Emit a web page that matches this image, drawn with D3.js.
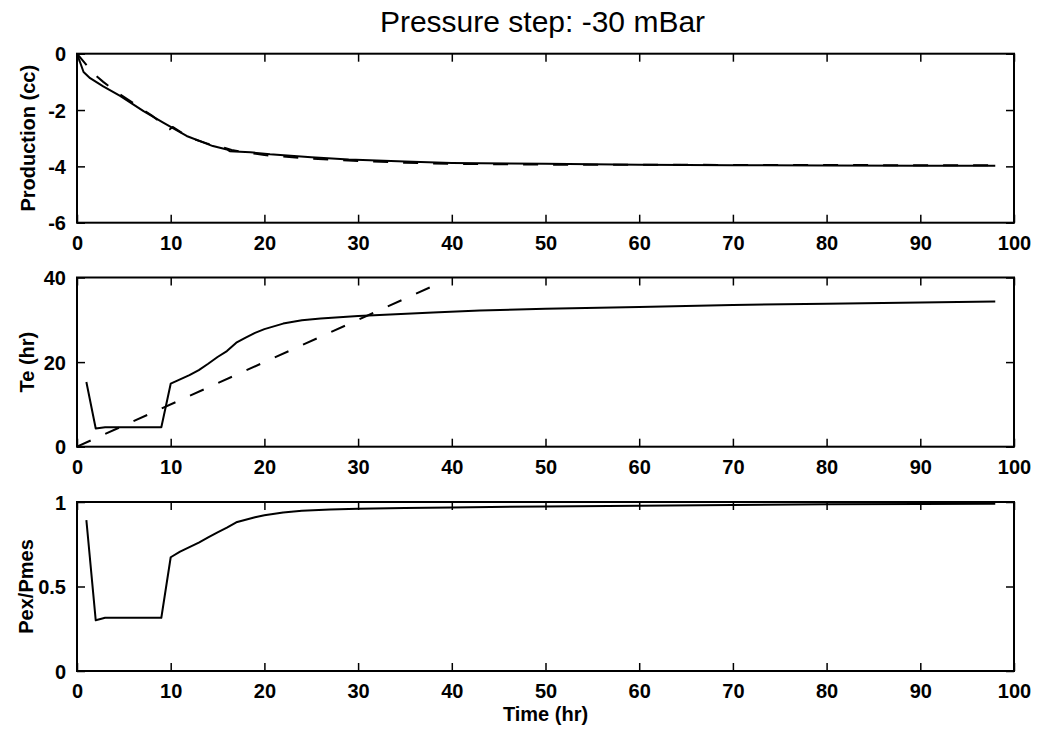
<!DOCTYPE html>
<html><head><meta charset="utf-8">
<script src="https://cdn.jsdelivr.net/npm/d3@7"></script>
<style>body{margin:0;background:#fff}svg{display:block}text{font-family:"Liberation Sans",Arial,sans-serif}</style>
</head><body>
<svg id="c" width="1041" height="731"></svg>
<script>
// ---- data ----
const titleText = "Pressure step: -30 mBar";
const xLabel = "Time (hr)";
const yLabels = ["Production (cc)", "Te (hr)", "Pex/Pmes"];
const xTicks = [0,10,20,30,40,50,60,70,80,90,100];
const prodTicks = [0,-2,-4,-6];
const teTicks = [0,20,40];
const ratioTicks = [0,0.5,1];

const prodTime     = [0,0.7,1.4,2.8,4.6,7.1,9.2,11.7,14.5,16,16.3,18.5,20.6,25,29,35,40,50,60,70,80,90,98];
const prodMeasured = [0,-0.65,-0.87,-1.16,-1.5,-2.04,-2.45,-2.92,-3.28,-3.4,-3.46,-3.5,-3.57,-3.68,-3.76,-3.83,-3.88,-3.91,-3.94,-3.96,-3.97,-3.98,-3.98];
const prodModelTime = [0,1.8,2.8,4.3,6,8,9.9,10.2,12,14,15.8,16.5,20,25,30,35,40,50,60,70,80,90,98];
const prodModel     = [0,-0.72,-1.0,-1.38,-1.75,-2.2,-2.68,-2.6,-2.98,-3.2,-3.35,-3.42,-3.6,-3.73,-3.81,-3.87,-3.91,-3.94,-3.94,-3.95,-3.95,-3.96,-3.96];

const teTime   = [1,2,3,9,10,11,12,13,14,15,16,17,18,19,20,22,24,26,28,30,34,38,43,50,60,70,80,90,98];
const teValues = [15.3,4.3,4.6,4.6,14.9,15.9,16.9,18.1,19.6,21.2,22.6,24.6,25.8,26.9,27.8,29.1,29.9,30.3,30.6,30.9,31.3,31.7,32.2,32.6,33.0,33.5,33.8,34.1,34.3];
const teFitTime = [0,38.9];
const teFit     = [0,38.9];

const ratioTime   = [1,2,3,9,10,11,12,13,14,15,16,17,18,19,20,22,24,27,30,35,40,50,60,70,80,90,98];
const ratioValues = [0.893,0.30,0.315,0.315,0.673,0.706,0.733,0.76,0.79,0.82,0.848,0.88,0.895,0.91,0.922,0.938,0.948,0.956,0.96,0.965,0.968,0.974,0.978,0.982,0.986,0.988,0.99];

// ---- layout ----
const svg = d3.select("#c");
const L = 77, R = 1014;
const panels = [
  {top:53.7, bottom:222.7, domain:[-6,0], ticks:prodTicks, label:yLabels[0], labelX:35,
   series:[{t:prodTime,v:prodMeasured,dash:null},{t:prodModelTime,v:prodModel,dash:"15,15"}]},
  {top:277.5, bottom:446.7, domain:[0,40], ticks:teTicks, label:yLabels[1], labelX:34,
   series:[{t:teTime,v:teValues,dash:null},{t:teFitTime,v:teFit,dash:"15,16"}]},
  {top:502, bottom:671, domain:[0,1], ticks:ratioTicks, label:yLabels[2], labelX:33,
   series:[{t:ratioTime,v:ratioValues,dash:null}]}
];
const x = d3.scaleLinear().domain([0,100]).range([L,R]);
const FONT = "Liberation Sans, Arial, sans-serif";
const TL = 8;

panels.forEach((p,i)=>{
  const y = d3.scaleLinear().domain(p.domain).range([p.bottom,p.top]);
  const g = svg.append("g");
  const line = d3.line().x(d=>x(d[0])).y(d=>y(d[1]));
  p.series.forEach(s=>{
    const pts = s.t.map((t,k)=>[t,s.v[k]]);
    g.append("path").attr("d",line(pts)).attr("fill","none").attr("stroke","#000")
      .attr("stroke-width",2).attr("stroke-linejoin","round")
      .attr("stroke-dasharray", s.dash);
  });
  const bottomAx = g.append("g").attr("transform",`translate(0,${p.bottom})`)
    .call(d3.axisBottom(x).tickValues(xTicks).tickSize(-TL).tickPadding(TL+5).tickFormat(d3.format("d")));
  const topAx = g.append("g").attr("transform",`translate(0,${p.top})`)
    .call(d3.axisTop(x).tickValues(xTicks).tickSize(-TL).tickFormat(""));
  const leftAx = g.append("g").attr("transform",`translate(${L},0)`)
    .call(d3.axisLeft(y).tickValues(p.ticks).tickSize(-TL).tickPadding(TL+3).tickFormat(d=>String(d)));
  const rightAx = g.append("g").attr("transform",`translate(${R},0)`)
    .call(d3.axisRight(y).tickValues(p.ticks).tickSize(-TL).tickFormat(""));
  [bottomAx,topAx,leftAx,rightAx].forEach(a=>{
    a.select(".domain").remove();
    a.selectAll(".tick line").attr("stroke","#000").attr("stroke-width",1.5);
    a.selectAll(".tick text").attr("fill","#000").style("font-family",FONT)
      .style("font-size","20px").style("font-weight","bold");
  });
  bottomAx.selectAll(".tick text").attr("dy","0.71em");
  leftAx.selectAll(".tick text").attr("dy","0.36em");
  g.append("rect").attr("x",L).attr("y",p.top).attr("width",R-L).attr("height",p.bottom-p.top)
    .attr("fill","none").attr("stroke","#000").attr("stroke-width",2);
  g.append("text").attr("transform",`translate(${p.labelX},${(p.top+p.bottom)/2}) rotate(-90)`)
    .attr("text-anchor","middle").style("font-family",FONT).style("font-size","20px")
    .style("font-weight","bold").text(p.label);
});

svg.append("text").attr("x",(L+R)/2 - 3).attr("y",32).attr("text-anchor","middle")
  .style("font-family",FONT).style("font-size","30px").text(titleText);
svg.append("text").attr("x",(L+R)/2).attr("y",721).attr("text-anchor","middle")
  .style("font-family",FONT).style("font-size","20px").style("font-weight","bold").text(xLabel);
</script>
</body></html>
